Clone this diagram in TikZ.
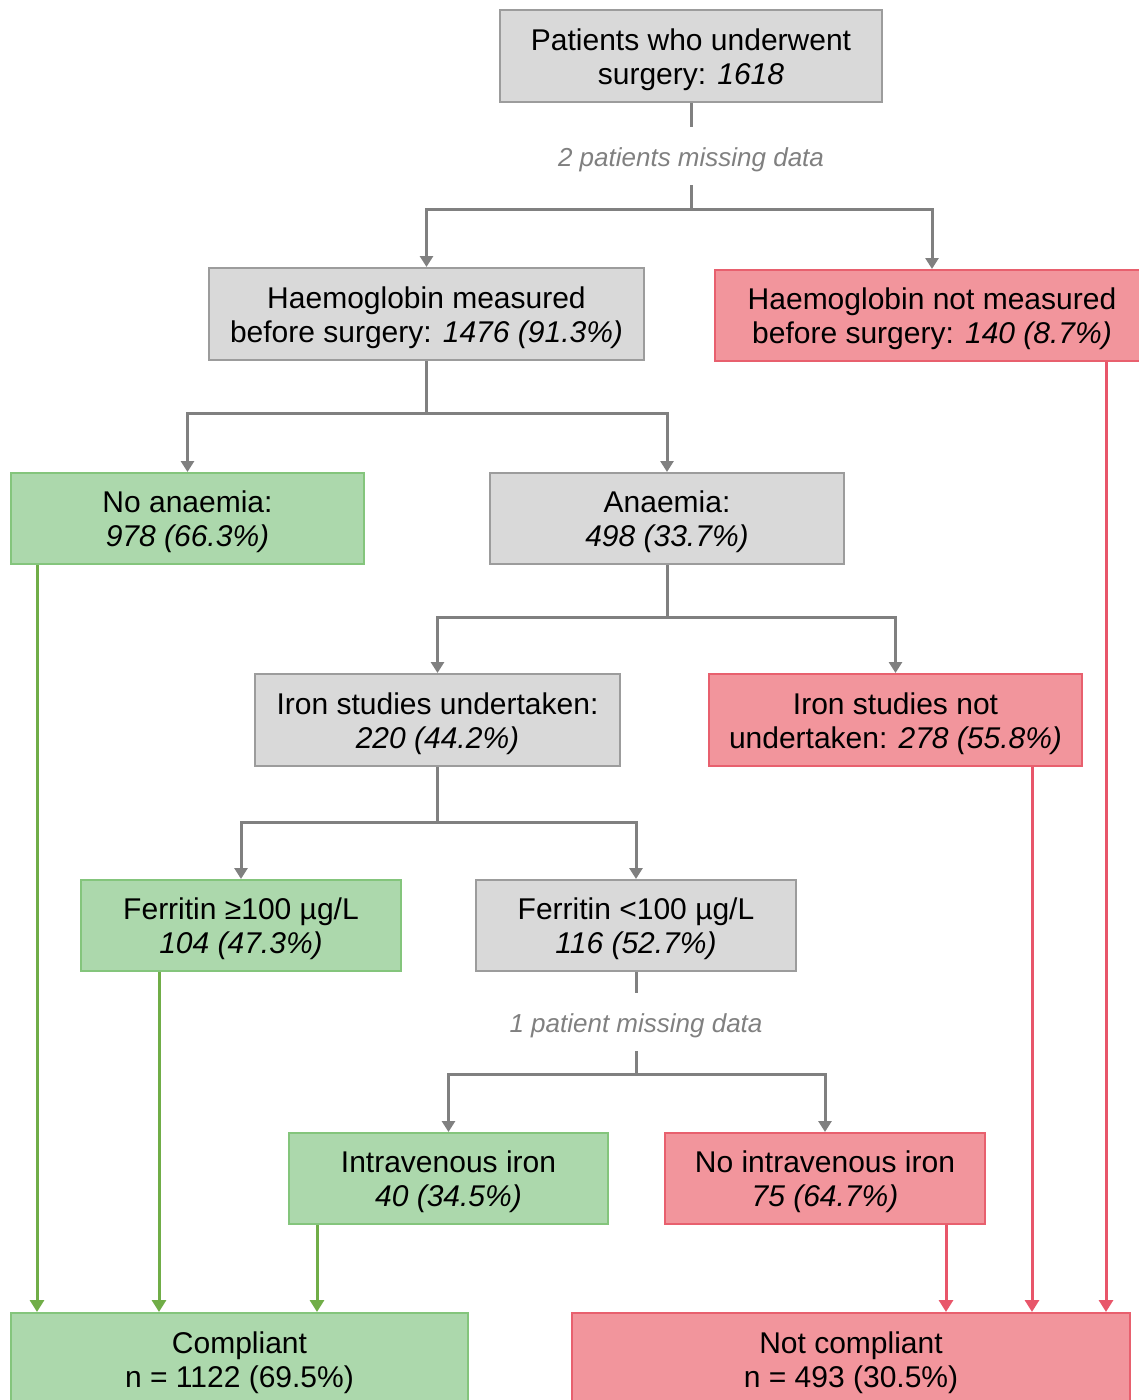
\documentclass[tikz,border=0pt]{standalone}
\usepackage{fontspec}
\setmainfont{Liberation Sans}
\usetikzlibrary{arrows.meta,calc}
\definecolor{gfill}{HTML}{D9D9D9}
\definecolor{gdraw}{HTML}{9C9C9C}
\definecolor{grfill}{HTML}{ACD8AC}
\definecolor{grdraw}{HTML}{84C57C}
\definecolor{rdfill}{HTML}{F2959C}
\definecolor{rddraw}{HTML}{E8606E}
\definecolor{conn}{HTML}{808080}
\definecolor{garrow}{HTML}{70AD47}
\definecolor{rarrow}{HTML}{E8566A}
\begin{document}
\begin{tikzpicture}[x=1pt,y=-1pt,
  box/.style={draw, line width=2pt, inner sep=0pt, align=center,
    font=\fontsize{30}{34}\selectfont, minimum height=91pt,
    text height=62pt, text depth=6pt},
  graybox/.style={box, fill=gfill, draw=gdraw},
  greenbox/.style={box, fill=grfill, draw=grdraw},
  redbox/.style={box, fill=rdfill, draw=rddraw},
  lbl/.style={inner sep=0pt, minimum height=58pt, text=conn,
    font=\fontsize{26}{30}\selectfont\itshape,
    execute at begin node={\rule{0pt}{27pt}}},
  ln/.style={draw=conn, line width=3pt},
  arr/.style={ln, -{Triangle[width=13pt,length=11pt]}},
  garr/.style={draw=garrow, line width=3pt, -{Triangle[width=14pt,length=12pt]}},
  rarr/.style={draw=rarrow, line width=3pt, -{Triangle[width=14pt,length=12pt]}}
]
\useasboundingbox (0,0) rectangle (1139,1400);

\node[graybox, minimum width=382pt, minimum height=92pt] (top) at (691,56)
  {Patients who underwent\\surgery: \textit{1618}};
\node[lbl] (m1) at (691,156) {2 patients missing data};

\node[graybox, minimum width=435pt, minimum height=92pt] (hbm) at (426.5,314)
  {Haemoglobin measured\\before surgery: \textit{1476 (91.3\%)}};
\node[redbox, minimum width=434pt] (hbnm) at (932,315.5)
  {Haemoglobin not measured\\before surgery: \textit{140 (8.7\%)}};

\node[greenbox, minimum width=353pt] (noan) at (187.5,518.5)
  {No anaemia:\\\textit{978 (66.3\%)}};
\node[graybox, minimum width=354pt] (an) at (667,518.5)
  {Anaemia:\\\textit{498 (33.7\%)}};

\node[graybox, minimum width=365pt, minimum height=92pt] (ist) at (437.5,720)
  {Iron studies undertaken:\\\textit{220 (44.2\%)}};
\node[redbox, minimum width=373pt, minimum height=92pt] (isnt) at (895.5,720)
  {Iron studies not\\undertaken: \textit{278 (55.8\%)}};

\node[greenbox, minimum width=320pt] (f1) at (241,925.5)
  {Ferritin ≥100 µg/L\\\textit{104 (47.3\%)}};
\node[graybox, minimum width=320pt] (f2) at (636,925.5)
  {Ferritin <100 µg/L\\\textit{116 (52.7\%)}};
\node[lbl] (m2) at (636,1022) {1 patient missing data};

\node[greenbox, minimum width=319pt] (iv) at (448.5,1178.5)
  {Intravenous iron\\\textit{40 (34.5\%)}};
\node[redbox, minimum width=320pt] (niv) at (825,1178.5)
  {No intravenous iron\\\textit{75 (64.7\%)}};

\node[greenbox, minimum width=457pt, minimum height=92pt] (comp) at (239.5,1359)
  {Compliant\\n = 1122 (69.5\%)};
\node[redbox, minimum width=558pt, minimum height=92pt] (nc) at (851,1359)
  {Not compliant\\n = 493 (30.5\%)};

% gray tree connectors
\coordinate (j0) at ($(m1.south)+(0,24)$);
\draw[ln] (top.south) -- (m1.north);
\draw[ln] (m1.south) -- (j0);
\draw[arr] (j0) -| (hbm.north);
\draw[arr] (j0) -| (hbnm.north);

\coordinate (j1) at ($(hbm.south)+(0,52)$);
\draw[ln] (hbm.south) -- (j1);
\draw[arr] (j1) -| (noan.north);
\draw[arr] (j1) -| (an.north);

\coordinate (j2) at ($(an.south)+(0,52)$);
\draw[ln] (an.south) -- (j2);
\draw[arr] (j2) -| (ist.north);
\draw[arr] (j2) -| (isnt.north);

\coordinate (j3) at ($(ist.south)+(0,55)$);
\draw[ln] (ist.south) -- (j3);
\draw[arr] (j3) -| (f1.north);
\draw[arr] (j3) -| (f2.north);

\coordinate (j4) at ($(m2.south)+(0,23)$);
\draw[ln] (f2.south) -- (m2.north);
\draw[ln] (m2.south) -- (j4);
\draw[arr] (j4) -| (iv.north);
\draw[arr] (j4) -| (niv.north);

% green outcome connectors
\coordinate (g1) at ($(noan.south)+(-150.5,0)$);
\coordinate (g2) at ($(f1.south)+(-82,0)$);
\coordinate (g3) at ($(iv.south)+(-131.5,0)$);
\draw[garr] (g1) -- (g1 |- comp.north);
\draw[garr] (g2) -- (g2 |- comp.north);
\draw[garr] (g3) -- (g3 |- comp.north);

% red outcome connectors
\coordinate (r1) at ($(niv.south)+(121,0)$);
\coordinate (r2) at ($(isnt.south)+(136.5,0)$);
\coordinate (r3) at ($(hbnm.south)+(174,0)$);
\draw[rarr] (r1) -- (r1 |- nc.north);
\draw[rarr] (r2) -- (r2 |- nc.north);
\draw[rarr] (r3) -- (r3 |- nc.north);
\end{tikzpicture}
\end{document}
